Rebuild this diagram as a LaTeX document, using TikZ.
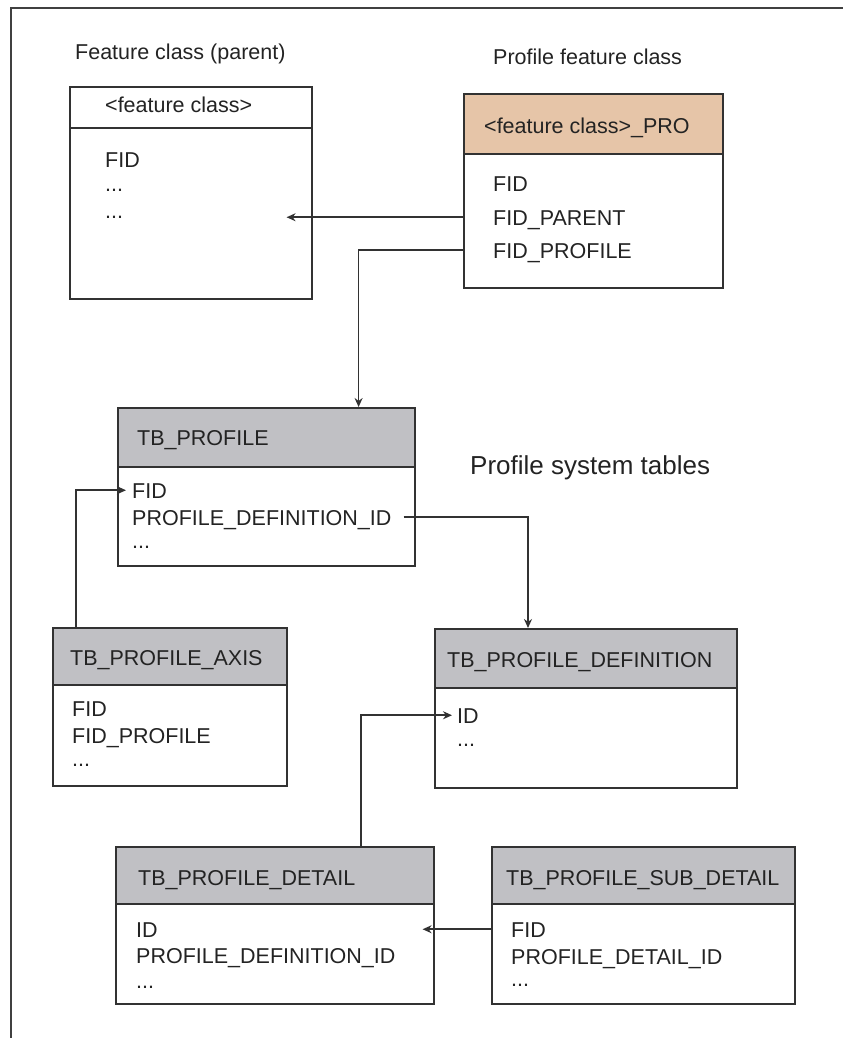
\documentclass[tikz,border=0pt]{standalone}
\usepackage{fontspec}
\setmainfont{Liberation Sans}
\usepackage{xcolor}
\usetikzlibrary{positioning, arrows.meta}

\definecolor{edge}{RGB}{50,50,50}
\definecolor{txt}{RGB}{35,35,35}
\definecolor{hdr}{RGB}{192,192,196}
\definecolor{protan}{RGB}{230,197,168}

\begin{document}
\begin{tikzpicture}[x=1pt, y=-1pt,
  every node/.style={font=\fontsize{21.5}{26}\selectfont, text=txt},
  head/.style={draw=edge, line width=1.6pt, fill=hdr, anchor=north west, inner sep=0pt},
  body/.style={draw=edge, line width=1.6pt, fill=white, anchor=north west, inner sep=0pt},
  field/.style={anchor=base west, inner sep=0pt, text height=15.5pt, text depth=0pt},
  title/.style={anchor=base west, inner sep=0pt},
  link/.style={draw=edge, line width=1.6pt, -{Stealth[length=9pt, width=8pt]}},
  frame/.style={draw=black!75, line width=1.6pt}]

  \useasboundingbox (0,0) rectangle (843,1038);
  \draw[frame] (11,1038) |- (843,8);

  % titles
  \node[title] (fctitle) at (75,60) {Feature class (parent)};
  \node[title] (protitle) at (493,65) {Profile feature class};
  \node[title, font=\fontsize{26}{30}\selectfont] (systitle) at (470,474) {Profile system tables};

  % parent feature class
  \node[head, fill=white, minimum width=242pt, minimum height=41pt] (fchead) at (69,86) {};
  \node[body, minimum width=242pt, minimum height=171pt] (fcbody) at (69,127) {};
  \node[field] (fcname) at (105,113) {<feature class>};
  \node[field] (fcfid) at (105,167) {FID};
  \node[field] (fcdots1) at (105,191.5) {...};
  \node[field] (fcdots2) at (105,218.5) {...};

  % profile feature class
  \node[head, fill=protan, minimum width=259pt, minimum height=60pt] (prohead) at (463,93) {};
  \node[body, minimum width=259pt, minimum height=134pt] (probody) at (463,153) {};
  \node[field] (proname) at (484,133) {<feature class>\_PRO};
  \node[field] (profid) at (493,191) {FID};
  \node[field] (proparent) at (493,225) {FID\_PARENT};
  \node[field] (proprofile) at (493,258) {FID\_PROFILE};

  % TB_PROFILE
  \node[head, minimum width=297pt, minimum height=59pt] (profhead) at (117,407) {};
  \node[body, minimum width=297pt, minimum height=99pt] (profbody) at (117,466) {};
  \node[field] (profname) at (137,445) {TB\_PROFILE};
  \node[field] (proffid) at (132,498) {FID};
  \node[field] (profpdi) at (132,525) {PROFILE\_DEFINITION\_ID};
  \node[field] (profdots) at (132,548.5) {...};

  % TB_PROFILE_AXIS
  \node[head, minimum width=234pt, minimum height=57pt] (axishead) at (52,627) {};
  \node[body, minimum width=234pt, minimum height=101pt] (axisbody) at (52,684) {};
  \node[field] (axisname) at (70,665) {TB\_PROFILE\_AXIS};
  \node[field] (axisfid) at (72,716) {FID};
  \node[field] (axisprofile) at (72,743) {FID\_PROFILE};
  \node[field] (axisdots) at (72,766.5) {...};

  % TB_PROFILE_DEFINITION
  \node[head, minimum width=302pt, minimum height=59pt] (defhead) at (434,628) {};
  \node[body, minimum width=302pt, minimum height=100pt] (defbody) at (434,687) {};
  \node[field] (defname) at (447,667) {TB\_PROFILE\_DEFINITION};
  \node[field] (defid) at (457,723) {ID};
  \node[field] (defdots) at (457,746.5) {...};

  % TB_PROFILE_DETAIL
  \node[head, minimum width=318pt, minimum height=57pt] (dethead) at (115,846) {};
  \node[body, minimum width=318pt, minimum height=100pt] (detbody) at (115,903) {};
  \node[field] (detname) at (138,885) {TB\_PROFILE\_DETAIL};
  \node[field] (detid) at (136,937) {ID};
  \node[field] (detpdi) at (136,963) {PROFILE\_DEFINITION\_ID};
  \node[field] (detdots) at (136,988.5) {...};

  % TB_PROFILE_SUB_DETAIL
  \node[head, minimum width=303pt, minimum height=57pt] (subhead) at (491,846) {};
  \node[body, minimum width=303pt, minimum height=100pt] (subbody) at (491,903) {};
  \node[field] (subname) at (506,885) {TB\_PROFILE\_SUB\_DETAIL};
  \node[field] (subfid) at (511,937) {FID};
  \node[field] (subpdi) at (511,964) {PROFILE\_DETAIL\_ID};
  \node[field] (subdots) at (511,986.5) {...};

  % relations
  \draw[link] (probody.west |- proparent.west) -- ([xshift=-26pt]fcbody.east |- proparent.west);
  \draw[link] (probody.west |- proprofile.west) -| ([xshift=-57pt]profhead.north east);
  \draw[link] ([xshift=24pt]axishead.north west) |- ([xshift=-6pt]proffid.west);
  \draw[link] ([xshift=12pt]profpdi.east) -| ([xshift=94pt]defhead.north west);
  \draw[link] ([xshift=246pt]dethead.north west) |- ([xshift=-5pt]defid.west);
  \draw[link] (subbody.west |- subfid.west) -- ([xshift=-12pt]detbody.east |- subfid.west);
\end{tikzpicture}
\end{document}
